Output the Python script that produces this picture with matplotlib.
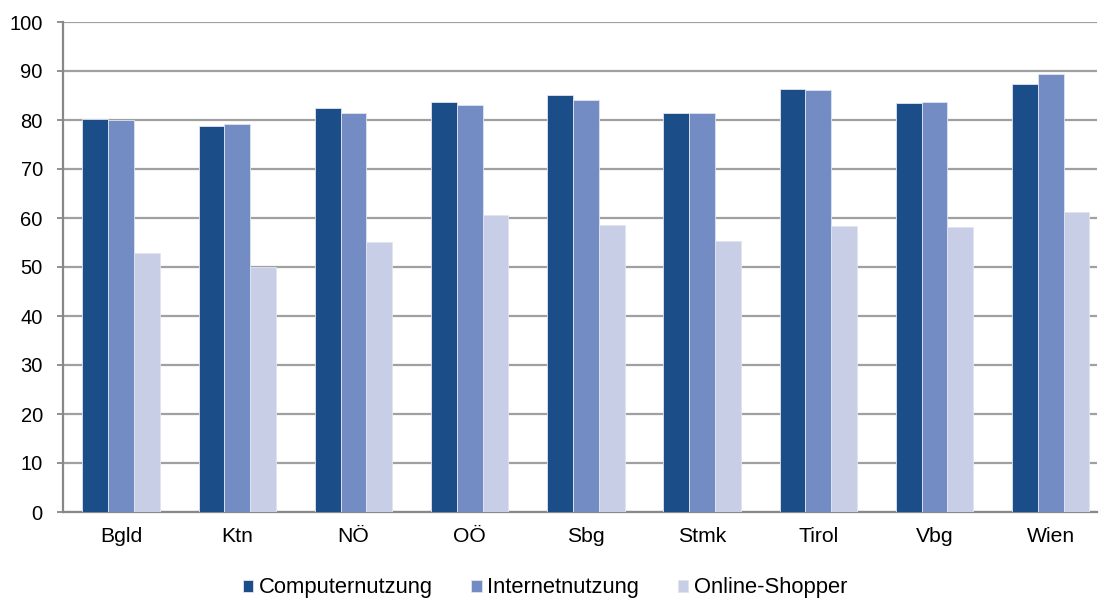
import matplotlib
matplotlib.use("Agg")
import matplotlib.pyplot as plt
import numpy as np

plt.rcParams['font.family'] = ['Liberation Sans', 'DejaVu Sans']

categories = ["Bgld", "Ktn", "NÖ", "OÖ", "Sbg", "Stmk", "Tirol", "Vbg", "Wien"]
computer = [80.3, 78.8, 82.4, 83.6, 85.2, 81.5, 86.3, 83.5, 87.3]
internet = [80.1, 79.2, 81.5, 83.0, 84.1, 81.4, 86.2, 83.7, 89.4]
shopper = [52.9, 50.1, 55.2, 60.6, 58.6, 55.3, 58.4, 58.2, 61.3]
series_names = ["Computernutzung", "Internetnutzung", "Online-Shopper"]
colors = ["#1B4D89", "#738DC4", "#C8CEE6"]

fig = plt.figure(figsize=(10.99, 6.0), dpi=100)
ax = fig.add_axes([63/1099, 88/600, 1034/1099, 490/600])

x = np.arange(len(categories))
w = 0.222
for i, (vals, name, c) in enumerate(zip([computer, internet, shopper], series_names, colors)):
    ax.bar(x + (i - 1) * w, vals, width=w, color=c, label=name,
           edgecolor="#E0E4F0", linewidth=0.6, zorder=3)

ax.set_xlim(-0.5, -0.5 + 1034 / 116.2)
ax.set_ylim(0, 100)
ax.set_yticks(range(0, 101, 10))
ax.set_xticks(x)
ax.set_xticklabels(categories)
ax.yaxis.grid(True, color="#A0A0A0", linewidth=1.6, zorder=0)
ax.set_axisbelow(True)
for s in ["top", "right"]:
    ax.spines[s].set_visible(False)
ax.spines["left"].set_color("#888888")
ax.spines["bottom"].set_color("#888888")
ax.spines["left"].set_linewidth(1.6)
ax.spines["bottom"].set_linewidth(1.6)
ax.tick_params(axis="y", length=4, width=1.3, color="#888888", labelsize=14.5, pad=10.5)
ax.tick_params(axis="x", length=0, labelsize=15.2, pad=11)

fig.legend(loc="center", bbox_to_anchor=(545/1099, 12/600), ncol=3, frameon=False,
           fontsize=15.8, handlelength=0.48, handleheight=0.48, handletextpad=0.25,
           columnspacing=1.75, borderaxespad=0)

fig.savefig("out.png", dpi=100)
